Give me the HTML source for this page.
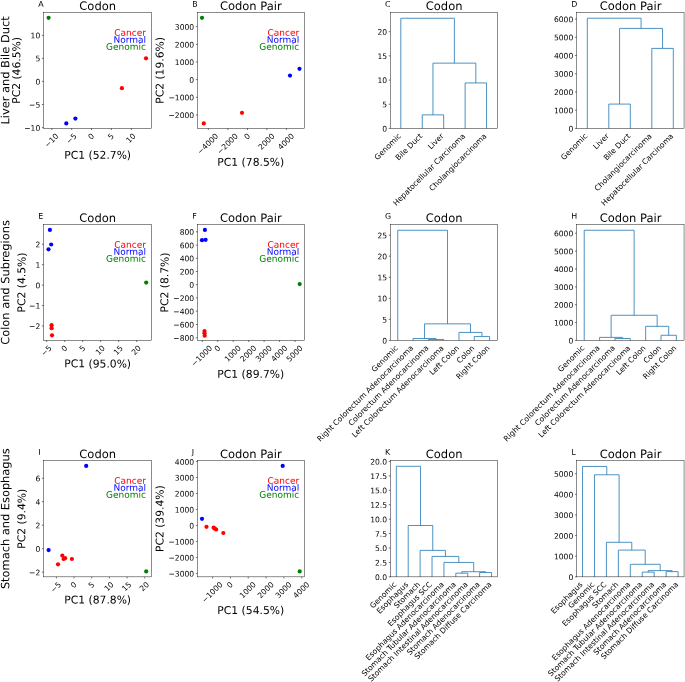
<!DOCTYPE html>
<html><head><meta charset="utf-8"><title>Figure</title>
<style>html,body{margin:0;padding:0;background:#fff;overflow:hidden}svg{display:block;will-change:transform}text{font-family:"DejaVu Sans","Liberation Sans",sans-serif}</style>
</head><body>
<svg width="685" height="682" viewBox="0 0 685 682">
<rect width="685" height="682" fill="#fff"/>
<circle cx="48.6" cy="17.8" r="2.1" fill="#008000"/>
<circle cx="146" cy="58.3" r="2.1" fill="#ff0000"/>
<circle cx="121.9" cy="88.2" r="2.1" fill="#ff0000"/>
<circle cx="75.4" cy="118.6" r="2.1" fill="#0000ff"/>
<circle cx="66.3" cy="123.4" r="2.1" fill="#0000ff"/>
<rect x="43.55" y="12.50" width="107.85" height="115.9" fill="none" stroke="#000" stroke-width="0.45"/>
<text transform="translate(40.25 38.37) rotate(0.1)" font-size="7.6" text-anchor="end" fill="#000">10</text>
<text transform="translate(40.25 61.37) rotate(0.1)" font-size="7.6" text-anchor="end" fill="#000">5</text>
<text transform="translate(40.25 84.47) rotate(0.1)" font-size="7.6" text-anchor="end" fill="#000">0</text>
<text transform="translate(40.25 107.57) rotate(0.1)" font-size="7.6" text-anchor="end" fill="#000">−5</text>
<text transform="translate(40.25 130.67) rotate(0.1)" font-size="7.6" text-anchor="end" fill="#000">−10</text>
<path d="M43.55 35.30h-1.6M43.55 58.30h-1.6M43.55 81.40h-1.6M43.55 104.50h-1.6M43.55 127.60h-1.6" stroke="#000" stroke-width="0.55" fill="none"/>
<text transform="translate(53.30 142.25) rotate(-45)" font-size="7.6" text-anchor="middle" fill="#000">−10</text>
<text transform="translate(73.10 140.55) rotate(-45)" font-size="7.6" text-anchor="middle" fill="#000">−5</text>
<text transform="translate(92.90 138.29) rotate(-45)" font-size="7.6" text-anchor="middle" fill="#000">0</text>
<text transform="translate(112.80 138.29) rotate(-45)" font-size="7.6" text-anchor="middle" fill="#000">5</text>
<text transform="translate(132.70 140.00) rotate(-45)" font-size="7.6" text-anchor="middle" fill="#000">10</text>
<path d="M51.90 128.40v1.6M71.70 128.40v1.6M91.50 128.40v1.6M111.40 128.40v1.6M131.30 128.40v1.6" stroke="#000" stroke-width="0.55" fill="none"/>
<text transform="translate(97.67 9.90) rotate(0.1)" font-size="11.5" text-anchor="middle" fill="#000">Codon</text>
<text transform="translate(38.25 6.70) rotate(0.1)" font-size="7.9" text-anchor="start" fill="#000">A</text>
<text transform="translate(146.00 35.80) rotate(0.1)" font-size="9.0" text-anchor="end" fill="#ff0000">Cancer</text>
<text transform="translate(146.00 42.80) rotate(0.1)" font-size="9.0" text-anchor="end" fill="#0000ff">Normal</text>
<text transform="translate(146.00 49.80) rotate(0.1)" font-size="9.0" text-anchor="end" fill="#008000">Genomic</text>
<text transform="translate(97.67 158.70) rotate(0.1)" font-size="10.75" text-anchor="middle" fill="#000">PC1 (52.7%)</text>
<text transform="translate(20.15 70.45) rotate(-89.9)" font-size="10.75" text-anchor="middle" fill="#000">PC2 (46.5%)</text>
<text transform="translate(9.25 70.45) rotate(-89.9)" font-size="11.4" text-anchor="middle" fill="#000">Liver and Bile Duct</text>
<circle cx="202" cy="17.8" r="2.1" fill="#008000"/>
<circle cx="299.5" cy="68.8" r="2.1" fill="#0000ff"/>
<circle cx="290" cy="75.6" r="2.1" fill="#0000ff"/>
<circle cx="242" cy="112.8" r="2.1" fill="#ff0000"/>
<circle cx="203.8" cy="123.4" r="2.1" fill="#ff0000"/>
<rect x="197.45" y="12.50" width="107.2" height="115.9" fill="none" stroke="#000" stroke-width="0.45"/>
<text transform="translate(194.15 29.67) rotate(0.1)" font-size="7.6" text-anchor="end" fill="#000">3000</text>
<text transform="translate(194.15 47.47) rotate(0.1)" font-size="7.6" text-anchor="end" fill="#000">2000</text>
<text transform="translate(194.15 65.07) rotate(0.1)" font-size="7.6" text-anchor="end" fill="#000">1000</text>
<text transform="translate(194.15 82.67) rotate(0.1)" font-size="7.6" text-anchor="end" fill="#000">0</text>
<text transform="translate(194.15 100.37) rotate(0.1)" font-size="7.6" text-anchor="end" fill="#000">−1000</text>
<text transform="translate(194.15 118.07) rotate(0.1)" font-size="7.6" text-anchor="end" fill="#000">−2000</text>
<path d="M197.45 26.60h-1.6M197.45 44.40h-1.6M197.45 62.00h-1.6M197.45 79.60h-1.6M197.45 97.30h-1.6M197.45 115.00h-1.6" stroke="#000" stroke-width="0.55" fill="none"/>
<text transform="translate(209.70 145.67) rotate(-45)" font-size="7.6" text-anchor="middle" fill="#000">−4000</text>
<text transform="translate(229.30 145.67) rotate(-45)" font-size="7.6" text-anchor="middle" fill="#000">−2000</text>
<text transform="translate(248.90 138.29) rotate(-45)" font-size="7.6" text-anchor="middle" fill="#000">0</text>
<text transform="translate(268.30 143.42) rotate(-45)" font-size="7.6" text-anchor="middle" fill="#000">2000</text>
<text transform="translate(287.80 143.42) rotate(-45)" font-size="7.6" text-anchor="middle" fill="#000">4000</text>
<path d="M208.30 128.40v1.6M227.90 128.40v1.6M247.50 128.40v1.6M266.90 128.40v1.6M286.40 128.40v1.6" stroke="#000" stroke-width="0.55" fill="none"/>
<text transform="translate(250.75 9.90) rotate(0.1)" font-size="11.5" text-anchor="middle" fill="#000">Codon Pair</text>
<text transform="translate(192.15 6.70) rotate(0.1)" font-size="7.9" text-anchor="start" fill="#000">B</text>
<text transform="translate(299.25 35.80) rotate(0.1)" font-size="9.0" text-anchor="end" fill="#ff0000">Cancer</text>
<text transform="translate(299.25 42.80) rotate(0.1)" font-size="9.0" text-anchor="end" fill="#0000ff">Normal</text>
<text transform="translate(299.25 49.80) rotate(0.1)" font-size="9.0" text-anchor="end" fill="#008000">Genomic</text>
<text transform="translate(250.75 165.80) rotate(0.1)" font-size="10.75" text-anchor="middle" fill="#000">PC1 (78.5%)</text>
<text transform="translate(163.55 70.45) rotate(-89.9)" font-size="10.75" text-anchor="middle" fill="#000">PC2 (19.6%)</text>
<path d="M422.25 128.40V114.86H443.68V128.40M465.11 128.40V82.95H486.54V128.40M432.96 114.86V63.13H475.82V82.95M400.81 128.40V18.26H454.39V63.13" stroke="#1f77b4" stroke-width="0.8" fill="none" stroke-linejoin="miter"/>
<rect x="390.35" y="12.50" width="107.15" height="115.9" fill="none" stroke="#000" stroke-width="0.45"/>
<text transform="translate(387.05 131.47) rotate(0.1)" font-size="7.6" text-anchor="end" fill="#000">0</text>
<text transform="translate(387.05 107.30) rotate(0.1)" font-size="7.6" text-anchor="end" fill="#000">5</text>
<text transform="translate(387.05 83.12) rotate(0.1)" font-size="7.6" text-anchor="end" fill="#000">10</text>
<text transform="translate(387.05 58.95) rotate(0.1)" font-size="7.6" text-anchor="end" fill="#000">15</text>
<text transform="translate(387.05 34.77) rotate(0.1)" font-size="7.6" text-anchor="end" fill="#000">20</text>
<path d="M390.35 128.40h-1.6M390.35 104.23h-1.6M390.35 80.05h-1.6M390.35 55.88h-1.6M390.35 31.70h-1.6" stroke="#000" stroke-width="0.55" fill="none"/>
<text transform="translate(401.43 136.58) rotate(-45)" font-size="7.6" text-anchor="end" fill="#000">Genomic</text>
<text transform="translate(422.86 136.58) rotate(-45)" font-size="7.6" text-anchor="end" fill="#000">Bile Duct</text>
<text transform="translate(444.29 136.58) rotate(-45)" font-size="7.6" text-anchor="end" fill="#000">Liver</text>
<text transform="translate(465.72 136.58) rotate(-45)" font-size="7.6" text-anchor="end" fill="#000">Hepatocellular Carcinoma</text>
<text transform="translate(487.15 136.58) rotate(-45)" font-size="7.6" text-anchor="end" fill="#000">Cholangiocarcinoma</text>
<text transform="translate(444.12 9.90) rotate(0.1)" font-size="11.5" text-anchor="middle" fill="#000">Codon</text>
<text transform="translate(385.05 6.70) rotate(0.1)" font-size="7.9" text-anchor="start" fill="#000">C</text>
<path d="M608.80 128.40V104.09H630.30V128.40M651.80 128.40V48.40H673.30V128.40M619.55 104.09V28.41H662.55V48.40M587.30 128.40V18.21H641.05V28.41" stroke="#1f77b4" stroke-width="0.8" fill="none" stroke-linejoin="miter"/>
<rect x="576.55" y="12.50" width="107.5" height="115.9" fill="none" stroke="#000" stroke-width="0.45"/>
<text transform="translate(573.25 131.47) rotate(0.1)" font-size="7.6" text-anchor="end" fill="#000">0</text>
<text transform="translate(573.25 113.25) rotate(0.1)" font-size="7.6" text-anchor="end" fill="#000">1000</text>
<text transform="translate(573.25 95.03) rotate(0.1)" font-size="7.6" text-anchor="end" fill="#000">2000</text>
<text transform="translate(573.25 76.81) rotate(0.1)" font-size="7.6" text-anchor="end" fill="#000">3000</text>
<text transform="translate(573.25 58.59) rotate(0.1)" font-size="7.6" text-anchor="end" fill="#000">4000</text>
<text transform="translate(573.25 40.37) rotate(0.1)" font-size="7.6" text-anchor="end" fill="#000">5000</text>
<text transform="translate(573.25 22.15) rotate(0.1)" font-size="7.6" text-anchor="end" fill="#000">6000</text>
<path d="M576.55 128.40h-1.6M576.55 110.18h-1.6M576.55 91.96h-1.6M576.55 73.74h-1.6M576.55 55.52h-1.6M576.55 37.30h-1.6M576.55 19.08h-1.6" stroke="#000" stroke-width="0.55" fill="none"/>
<text transform="translate(587.91 136.58) rotate(-45)" font-size="7.6" text-anchor="end" fill="#000">Genomic</text>
<text transform="translate(609.41 136.58) rotate(-45)" font-size="7.6" text-anchor="end" fill="#000">Liver</text>
<text transform="translate(630.91 136.58) rotate(-45)" font-size="7.6" text-anchor="end" fill="#000">Bile Duct</text>
<text transform="translate(652.41 136.58) rotate(-45)" font-size="7.6" text-anchor="end" fill="#000">Cholangiocarcinoma</text>
<text transform="translate(673.91 136.58) rotate(-45)" font-size="7.6" text-anchor="end" fill="#000">Hepatocellular Carcinoma</text>
<text transform="translate(630.50 9.90) rotate(0.1)" font-size="11.5" text-anchor="middle" fill="#000">Codon Pair</text>
<text transform="translate(571.25 6.70) rotate(0.1)" font-size="7.9" text-anchor="start" fill="#000">D</text>
<circle cx="49.9" cy="229.9" r="2.1" fill="#0000ff"/>
<circle cx="51.2" cy="244.5" r="2.1" fill="#0000ff"/>
<circle cx="48.5" cy="249.3" r="2.1" fill="#0000ff"/>
<circle cx="146.2" cy="282.6" r="2.1" fill="#008000"/>
<circle cx="51.6" cy="325.2" r="2.1" fill="#ff0000"/>
<circle cx="51.6" cy="328.2" r="2.1" fill="#ff0000"/>
<circle cx="52" cy="335.3" r="2.1" fill="#ff0000"/>
<rect x="43.55" y="224.50" width="107.85" height="115.9" fill="none" stroke="#000" stroke-width="0.45"/>
<text transform="translate(40.25 247.31) rotate(0.1)" font-size="7.6" text-anchor="end" fill="#000">2</text>
<text transform="translate(40.25 267.74) rotate(0.1)" font-size="7.6" text-anchor="end" fill="#000">1</text>
<text transform="translate(40.25 288.17) rotate(0.1)" font-size="7.6" text-anchor="end" fill="#000">0</text>
<text transform="translate(40.25 308.60) rotate(0.1)" font-size="7.6" text-anchor="end" fill="#000">−1</text>
<text transform="translate(40.25 329.03) rotate(0.1)" font-size="7.6" text-anchor="end" fill="#000">−2</text>
<path d="M43.55 244.24h-1.6M43.55 264.67h-1.6M43.55 285.10h-1.6M43.55 305.53h-1.6M43.55 325.96h-1.6" stroke="#000" stroke-width="0.55" fill="none"/>
<text transform="translate(48.10 352.55) rotate(-45)" font-size="7.6" text-anchor="middle" fill="#000">−5</text>
<text transform="translate(66.10 350.29) rotate(-45)" font-size="7.6" text-anchor="middle" fill="#000">0</text>
<text transform="translate(84.10 350.29) rotate(-45)" font-size="7.6" text-anchor="middle" fill="#000">5</text>
<text transform="translate(102.10 352.00) rotate(-45)" font-size="7.6" text-anchor="middle" fill="#000">10</text>
<text transform="translate(120.10 352.00) rotate(-45)" font-size="7.6" text-anchor="middle" fill="#000">15</text>
<text transform="translate(138.10 352.00) rotate(-45)" font-size="7.6" text-anchor="middle" fill="#000">20</text>
<path d="M46.70 340.40v1.6M64.70 340.40v1.6M82.70 340.40v1.6M100.70 340.40v1.6M118.70 340.40v1.6M136.70 340.40v1.6" stroke="#000" stroke-width="0.55" fill="none"/>
<text transform="translate(97.67 221.90) rotate(0.1)" font-size="11.5" text-anchor="middle" fill="#000">Codon</text>
<text transform="translate(38.25 218.70) rotate(0.1)" font-size="7.9" text-anchor="start" fill="#000">E</text>
<text transform="translate(146.00 247.80) rotate(0.1)" font-size="9.0" text-anchor="end" fill="#ff0000">Cancer</text>
<text transform="translate(146.00 254.80) rotate(0.1)" font-size="9.0" text-anchor="end" fill="#0000ff">Normal</text>
<text transform="translate(146.00 261.80) rotate(0.1)" font-size="9.0" text-anchor="end" fill="#008000">Genomic</text>
<text transform="translate(97.67 367.40) rotate(0.1)" font-size="10.75" text-anchor="middle" fill="#000">PC1 (95.0%)</text>
<text transform="translate(25.35 282.45) rotate(-89.9)" font-size="10.75" text-anchor="middle" fill="#000">PC2 (4.5%)</text>
<text transform="translate(9.25 282.45) rotate(-89.9)" font-size="11.4" text-anchor="middle" fill="#000">Colon and Subregions</text>
<circle cx="204.9" cy="229.9" r="2.1" fill="#0000ff"/>
<circle cx="202" cy="240.2" r="2.1" fill="#0000ff"/>
<circle cx="205.6" cy="239.8" r="2.1" fill="#0000ff"/>
<circle cx="299.7" cy="284.1" r="2.1" fill="#008000"/>
<circle cx="204.5" cy="331.1" r="2.1" fill="#ff0000"/>
<circle cx="204.5" cy="333.2" r="2.1" fill="#ff0000"/>
<circle cx="204.7" cy="335.7" r="2.1" fill="#ff0000"/>
<rect x="197.45" y="224.50" width="107.2" height="115.9" fill="none" stroke="#000" stroke-width="0.45"/>
<text transform="translate(194.15 234.87) rotate(0.1)" font-size="7.6" text-anchor="end" fill="#000">800</text>
<text transform="translate(194.15 248.17) rotate(0.1)" font-size="7.6" text-anchor="end" fill="#000">600</text>
<text transform="translate(194.15 261.37) rotate(0.1)" font-size="7.6" text-anchor="end" fill="#000">400</text>
<text transform="translate(194.15 274.57) rotate(0.1)" font-size="7.6" text-anchor="end" fill="#000">200</text>
<text transform="translate(194.15 287.77) rotate(0.1)" font-size="7.6" text-anchor="end" fill="#000">0</text>
<text transform="translate(194.15 300.97) rotate(0.1)" font-size="7.6" text-anchor="end" fill="#000">−200</text>
<text transform="translate(194.15 314.27) rotate(0.1)" font-size="7.6" text-anchor="end" fill="#000">−400</text>
<text transform="translate(194.15 327.57) rotate(0.1)" font-size="7.6" text-anchor="end" fill="#000">−600</text>
<text transform="translate(194.15 340.87) rotate(0.1)" font-size="7.6" text-anchor="end" fill="#000">−800</text>
<path d="M197.45 231.80h-1.6M197.45 245.10h-1.6M197.45 258.30h-1.6M197.45 271.50h-1.6M197.45 284.70h-1.6M197.45 297.90h-1.6M197.45 311.20h-1.6M197.45 324.50h-1.6M197.45 337.80h-1.6" stroke="#000" stroke-width="0.55" fill="none"/>
<text transform="translate(203.70 357.67) rotate(-45)" font-size="7.6" text-anchor="middle" fill="#000">−1000</text>
<text transform="translate(219.20 350.29) rotate(-45)" font-size="7.6" text-anchor="middle" fill="#000">0</text>
<text transform="translate(234.60 355.42) rotate(-45)" font-size="7.6" text-anchor="middle" fill="#000">1000</text>
<text transform="translate(250.10 355.42) rotate(-45)" font-size="7.6" text-anchor="middle" fill="#000">2000</text>
<text transform="translate(265.50 355.42) rotate(-45)" font-size="7.6" text-anchor="middle" fill="#000">3000</text>
<text transform="translate(281.00 355.42) rotate(-45)" font-size="7.6" text-anchor="middle" fill="#000">4000</text>
<text transform="translate(296.40 355.42) rotate(-45)" font-size="7.6" text-anchor="middle" fill="#000">5000</text>
<path d="M202.30 340.40v1.6M217.80 340.40v1.6M233.20 340.40v1.6M248.70 340.40v1.6M264.10 340.40v1.6M279.60 340.40v1.6M295.00 340.40v1.6" stroke="#000" stroke-width="0.55" fill="none"/>
<text transform="translate(250.75 221.90) rotate(0.1)" font-size="11.5" text-anchor="middle" fill="#000">Codon Pair</text>
<text transform="translate(192.15 218.70) rotate(0.1)" font-size="7.9" text-anchor="start" fill="#000">F</text>
<text transform="translate(299.25 247.80) rotate(0.1)" font-size="9.0" text-anchor="end" fill="#ff0000">Cancer</text>
<text transform="translate(299.25 254.80) rotate(0.1)" font-size="9.0" text-anchor="end" fill="#0000ff">Normal</text>
<text transform="translate(299.25 261.80) rotate(0.1)" font-size="9.0" text-anchor="end" fill="#008000">Genomic</text>
<text transform="translate(250.75 377.80) rotate(0.1)" font-size="10.75" text-anchor="middle" fill="#000">PC1 (89.7%)</text>
<text transform="translate(168.35 282.45) rotate(-89.9)" font-size="10.75" text-anchor="middle" fill="#000">PC2 (8.7%)</text>
<path d="M428.37 340.40V339.47H443.68V340.40M413.06 340.40V338.51H436.02V339.47M474.29 340.40V336.44H489.60V340.40M458.98 340.40V332.40H481.94V336.44M424.54 338.51V323.85H470.46V332.40M397.75 340.40V230.27H447.50V323.85" stroke="#1f77b4" stroke-width="0.8" fill="none" stroke-linejoin="miter"/>
<rect x="390.35" y="224.50" width="107.15" height="115.9" fill="none" stroke="#000" stroke-width="0.45"/>
<text transform="translate(387.05 343.47) rotate(0.1)" font-size="7.6" text-anchor="end" fill="#000">0</text>
<text transform="translate(387.05 322.42) rotate(0.1)" font-size="7.6" text-anchor="end" fill="#000">5</text>
<text transform="translate(387.05 301.37) rotate(0.1)" font-size="7.6" text-anchor="end" fill="#000">10</text>
<text transform="translate(387.05 280.32) rotate(0.1)" font-size="7.6" text-anchor="end" fill="#000">15</text>
<text transform="translate(387.05 259.27) rotate(0.1)" font-size="7.6" text-anchor="end" fill="#000">20</text>
<text transform="translate(387.05 238.22) rotate(0.1)" font-size="7.6" text-anchor="end" fill="#000">25</text>
<path d="M390.35 340.40h-1.6M390.35 319.35h-1.6M390.35 298.30h-1.6M390.35 277.25h-1.6M390.35 256.20h-1.6M390.35 235.15h-1.6" stroke="#000" stroke-width="0.55" fill="none"/>
<text transform="translate(398.36 348.58) rotate(-45)" font-size="7.6" text-anchor="end" fill="#000">Genomic</text>
<text transform="translate(413.67 348.58) rotate(-45)" font-size="7.6" text-anchor="end" fill="#000">Right Colorectum Adenocarcinoma</text>
<text transform="translate(428.98 348.58) rotate(-45)" font-size="7.6" text-anchor="end" fill="#000">Colorectum Adenocarcinoma</text>
<text transform="translate(444.29 348.58) rotate(-45)" font-size="7.6" text-anchor="end" fill="#000">Left Colorectum Adenocarcinoma</text>
<text transform="translate(459.59 348.58) rotate(-45)" font-size="7.6" text-anchor="end" fill="#000">Left Colon</text>
<text transform="translate(474.90 348.58) rotate(-45)" font-size="7.6" text-anchor="end" fill="#000">Colon</text>
<text transform="translate(490.21 348.58) rotate(-45)" font-size="7.6" text-anchor="end" fill="#000">Right Colon</text>
<text transform="translate(444.12 221.90) rotate(0.1)" font-size="11.5" text-anchor="middle" fill="#000">Codon</text>
<text transform="translate(385.05 218.70) rotate(0.1)" font-size="7.9" text-anchor="start" fill="#000">G</text>
<path d="M614.94 340.40V338.53H630.30V340.40M599.59 340.40V337.38H622.62V338.53M661.01 340.40V335.28H676.37V340.40M645.66 340.40V326.32H668.69V335.28M611.10 337.38V315.27H657.17V326.32M584.23 340.40V230.25H634.14V315.27" stroke="#1f77b4" stroke-width="0.8" fill="none" stroke-linejoin="miter"/>
<rect x="576.55" y="224.50" width="107.5" height="115.9" fill="none" stroke="#000" stroke-width="0.45"/>
<text transform="translate(573.25 343.47) rotate(0.1)" font-size="7.6" text-anchor="end" fill="#000">0</text>
<text transform="translate(573.25 325.62) rotate(0.1)" font-size="7.6" text-anchor="end" fill="#000">1000</text>
<text transform="translate(573.25 307.77) rotate(0.1)" font-size="7.6" text-anchor="end" fill="#000">2000</text>
<text transform="translate(573.25 289.92) rotate(0.1)" font-size="7.6" text-anchor="end" fill="#000">3000</text>
<text transform="translate(573.25 272.07) rotate(0.1)" font-size="7.6" text-anchor="end" fill="#000">4000</text>
<text transform="translate(573.25 254.22) rotate(0.1)" font-size="7.6" text-anchor="end" fill="#000">5000</text>
<text transform="translate(573.25 236.37) rotate(0.1)" font-size="7.6" text-anchor="end" fill="#000">6000</text>
<path d="M576.55 340.40h-1.6M576.55 322.55h-1.6M576.55 304.70h-1.6M576.55 286.85h-1.6M576.55 269.00h-1.6M576.55 251.15h-1.6M576.55 233.30h-1.6" stroke="#000" stroke-width="0.55" fill="none"/>
<text transform="translate(584.84 348.58) rotate(-45)" font-size="7.6" text-anchor="end" fill="#000">Genomic</text>
<text transform="translate(600.20 348.58) rotate(-45)" font-size="7.6" text-anchor="end" fill="#000">Right Colorectum Adenocarcinoma</text>
<text transform="translate(615.55 348.58) rotate(-45)" font-size="7.6" text-anchor="end" fill="#000">Colorectum Adenocarcinoma</text>
<text transform="translate(630.91 348.58) rotate(-45)" font-size="7.6" text-anchor="end" fill="#000">Left Colorectum Adenocarcinoma</text>
<text transform="translate(646.27 348.58) rotate(-45)" font-size="7.6" text-anchor="end" fill="#000">Left Colon</text>
<text transform="translate(661.62 348.58) rotate(-45)" font-size="7.6" text-anchor="end" fill="#000">Colon</text>
<text transform="translate(676.98 348.58) rotate(-45)" font-size="7.6" text-anchor="end" fill="#000">Right Colon</text>
<text transform="translate(630.50 221.90) rotate(0.1)" font-size="11.5" text-anchor="middle" fill="#000">Codon Pair</text>
<text transform="translate(571.25 218.70) rotate(0.1)" font-size="7.9" text-anchor="start" fill="#000">H</text>
<circle cx="86.2" cy="465.9" r="2.1" fill="#0000ff"/>
<circle cx="48.6" cy="550.1" r="2.1" fill="#0000ff"/>
<circle cx="146.2" cy="571.4" r="2.1" fill="#008000"/>
<circle cx="62.3" cy="555.5" r="2.1" fill="#ff0000"/>
<circle cx="65.1" cy="558.2" r="2.1" fill="#ff0000"/>
<circle cx="63.6" cy="558.9" r="2.1" fill="#ff0000"/>
<circle cx="71.9" cy="559" r="2.1" fill="#ff0000"/>
<circle cx="58" cy="564.3" r="2.1" fill="#ff0000"/>
<rect x="43.55" y="460.55" width="107.85" height="116.3" fill="none" stroke="#000" stroke-width="0.45"/>
<text transform="translate(40.25 481.27) rotate(0.1)" font-size="7.6" text-anchor="end" fill="#000">6</text>
<text transform="translate(40.25 504.77) rotate(0.1)" font-size="7.6" text-anchor="end" fill="#000">4</text>
<text transform="translate(40.25 528.27) rotate(0.1)" font-size="7.6" text-anchor="end" fill="#000">2</text>
<text transform="translate(40.25 551.77) rotate(0.1)" font-size="7.6" text-anchor="end" fill="#000">0</text>
<text transform="translate(40.25 575.27) rotate(0.1)" font-size="7.6" text-anchor="end" fill="#000">−2</text>
<path d="M43.55 478.20h-1.6M43.55 501.70h-1.6M43.55 525.20h-1.6M43.55 548.70h-1.6M43.55 572.20h-1.6" stroke="#000" stroke-width="0.55" fill="none"/>
<text transform="translate(57.80 589.00) rotate(-45)" font-size="7.6" text-anchor="middle" fill="#000">−5</text>
<text transform="translate(75.40 586.74) rotate(-45)" font-size="7.6" text-anchor="middle" fill="#000">0</text>
<text transform="translate(93.10 586.74) rotate(-45)" font-size="7.6" text-anchor="middle" fill="#000">5</text>
<text transform="translate(110.80 588.45) rotate(-45)" font-size="7.6" text-anchor="middle" fill="#000">10</text>
<text transform="translate(128.50 588.45) rotate(-45)" font-size="7.6" text-anchor="middle" fill="#000">15</text>
<text transform="translate(146.20 588.45) rotate(-45)" font-size="7.6" text-anchor="middle" fill="#000">20</text>
<path d="M56.40 576.85v1.6M74.00 576.85v1.6M91.70 576.85v1.6M109.40 576.85v1.6M127.10 576.85v1.6M144.80 576.85v1.6" stroke="#000" stroke-width="0.55" fill="none"/>
<text transform="translate(97.67 457.95) rotate(0.1)" font-size="11.5" text-anchor="middle" fill="#000">Codon</text>
<text transform="translate(38.25 454.75) rotate(0.1)" font-size="7.9" text-anchor="start" fill="#000">I</text>
<text transform="translate(146.00 483.85) rotate(0.1)" font-size="9.0" text-anchor="end" fill="#ff0000">Cancer</text>
<text transform="translate(146.00 490.85) rotate(0.1)" font-size="9.0" text-anchor="end" fill="#0000ff">Normal</text>
<text transform="translate(146.00 497.85) rotate(0.1)" font-size="9.0" text-anchor="end" fill="#008000">Genomic</text>
<text transform="translate(97.67 603.55) rotate(0.1)" font-size="10.75" text-anchor="middle" fill="#000">PC1 (87.8%)</text>
<text transform="translate(25.35 518.70) rotate(-89.9)" font-size="10.75" text-anchor="middle" fill="#000">PC2 (9.4%)</text>
<text transform="translate(9.25 518.70) rotate(-89.9)" font-size="11.4" text-anchor="middle" fill="#000">Stomach and Esophagus</text>
<circle cx="282.7" cy="465.9" r="2.1" fill="#0000ff"/>
<circle cx="202" cy="518.8" r="2.1" fill="#0000ff"/>
<circle cx="299.7" cy="571.4" r="2.1" fill="#008000"/>
<circle cx="206.5" cy="526.8" r="2.1" fill="#ff0000"/>
<circle cx="213.6" cy="527.7" r="2.1" fill="#ff0000"/>
<circle cx="214.9" cy="528.7" r="2.1" fill="#ff0000"/>
<circle cx="216.2" cy="529.5" r="2.1" fill="#ff0000"/>
<circle cx="223.3" cy="533" r="2.1" fill="#ff0000"/>
<rect x="197.45" y="460.55" width="107.2" height="116.3" fill="none" stroke="#000" stroke-width="0.45"/>
<text transform="translate(194.15 464.67) rotate(0.1)" font-size="7.6" text-anchor="end" fill="#000">4000</text>
<text transform="translate(194.15 480.57) rotate(0.1)" font-size="7.6" text-anchor="end" fill="#000">3000</text>
<text transform="translate(194.15 496.57) rotate(0.1)" font-size="7.6" text-anchor="end" fill="#000">2000</text>
<text transform="translate(194.15 512.47) rotate(0.1)" font-size="7.6" text-anchor="end" fill="#000">1000</text>
<text transform="translate(194.15 528.47) rotate(0.1)" font-size="7.6" text-anchor="end" fill="#000">0</text>
<text transform="translate(194.15 544.47) rotate(0.1)" font-size="7.6" text-anchor="end" fill="#000">−1000</text>
<text transform="translate(194.15 560.47) rotate(0.1)" font-size="7.6" text-anchor="end" fill="#000">−2000</text>
<text transform="translate(194.15 576.47) rotate(0.1)" font-size="7.6" text-anchor="end" fill="#000">−3000</text>
<path d="M197.45 461.60h-1.6M197.45 477.50h-1.6M197.45 493.50h-1.6M197.45 509.40h-1.6M197.45 525.40h-1.6M197.45 541.40h-1.6M197.45 557.40h-1.6M197.45 573.40h-1.6" stroke="#000" stroke-width="0.55" fill="none"/>
<text transform="translate(214.00 594.12) rotate(-45)" font-size="7.6" text-anchor="middle" fill="#000">−1000</text>
<text transform="translate(231.80 586.74) rotate(-45)" font-size="7.6" text-anchor="middle" fill="#000">0</text>
<text transform="translate(249.60 591.87) rotate(-45)" font-size="7.6" text-anchor="middle" fill="#000">1000</text>
<text transform="translate(267.50 591.87) rotate(-45)" font-size="7.6" text-anchor="middle" fill="#000">2000</text>
<text transform="translate(285.30 591.87) rotate(-45)" font-size="7.6" text-anchor="middle" fill="#000">3000</text>
<text transform="translate(303.20 591.87) rotate(-45)" font-size="7.6" text-anchor="middle" fill="#000">4000</text>
<path d="M212.60 576.85v1.6M230.40 576.85v1.6M248.20 576.85v1.6M266.10 576.85v1.6M283.90 576.85v1.6M301.80 576.85v1.6" stroke="#000" stroke-width="0.55" fill="none"/>
<text transform="translate(250.75 457.95) rotate(0.1)" font-size="11.5" text-anchor="middle" fill="#000">Codon Pair</text>
<text transform="translate(191.65 454.75) rotate(0.1)" font-size="7.9" text-anchor="start" fill="#000">J</text>
<text transform="translate(299.25 483.85) rotate(0.1)" font-size="9.0" text-anchor="end" fill="#ff0000">Cancer</text>
<text transform="translate(299.25 490.85) rotate(0.1)" font-size="9.0" text-anchor="end" fill="#0000ff">Normal</text>
<text transform="translate(299.25 497.85) rotate(0.1)" font-size="9.0" text-anchor="end" fill="#008000">Genomic</text>
<text transform="translate(250.75 613.95) rotate(0.1)" font-size="10.75" text-anchor="middle" fill="#000">PC1 (54.5%)</text>
<text transform="translate(163.55 518.70) rotate(-89.9)" font-size="10.75" text-anchor="middle" fill="#000">PC2 (39.4%)</text>
<path d="M455.83 576.85V573.16H467.74V576.85M479.64 576.85V572.52H491.55V576.85M461.78 573.16V571.71H485.59V572.52M443.93 576.85V562.43H473.69V571.71M432.02 576.85V556.42H458.81V562.43M420.11 576.85V550.37H445.41V556.42M408.21 576.85V525.50H432.76V550.37M396.30 576.85V466.30H420.49V525.50" stroke="#1f77b4" stroke-width="0.8" fill="none" stroke-linejoin="miter"/>
<rect x="390.35" y="460.55" width="107.15" height="116.3" fill="none" stroke="#000" stroke-width="0.45"/>
<text transform="translate(387.05 579.92) rotate(0.1)" font-size="7.6" text-anchor="end" fill="#000">0.0</text>
<text transform="translate(387.05 565.50) rotate(0.1)" font-size="7.6" text-anchor="end" fill="#000">2.5</text>
<text transform="translate(387.05 551.07) rotate(0.1)" font-size="7.6" text-anchor="end" fill="#000">5.0</text>
<text transform="translate(387.05 536.65) rotate(0.1)" font-size="7.6" text-anchor="end" fill="#000">7.5</text>
<text transform="translate(387.05 522.22) rotate(0.1)" font-size="7.6" text-anchor="end" fill="#000">10.0</text>
<text transform="translate(387.05 507.80) rotate(0.1)" font-size="7.6" text-anchor="end" fill="#000">12.5</text>
<text transform="translate(387.05 493.37) rotate(0.1)" font-size="7.6" text-anchor="end" fill="#000">15.0</text>
<text transform="translate(387.05 478.95) rotate(0.1)" font-size="7.6" text-anchor="end" fill="#000">17.5</text>
<text transform="translate(387.05 464.52) rotate(0.1)" font-size="7.6" text-anchor="end" fill="#000">20.0</text>
<path d="M390.35 576.85h-1.6M390.35 562.43h-1.6M390.35 548.00h-1.6M390.35 533.58h-1.6M390.35 519.15h-1.6M390.35 504.73h-1.6M390.35 490.30h-1.6M390.35 475.88h-1.6M390.35 461.45h-1.6" stroke="#000" stroke-width="0.55" fill="none"/>
<text transform="translate(396.91 585.03) rotate(-45)" font-size="7.6" text-anchor="end" fill="#000">Genomic</text>
<text transform="translate(408.82 585.03) rotate(-45)" font-size="7.6" text-anchor="end" fill="#000">Esophagus</text>
<text transform="translate(420.72 585.03) rotate(-45)" font-size="7.6" text-anchor="end" fill="#000">Stomach</text>
<text transform="translate(432.63 585.03) rotate(-45)" font-size="7.6" text-anchor="end" fill="#000">Esophagus SCC</text>
<text transform="translate(444.54 585.03) rotate(-45)" font-size="7.6" text-anchor="end" fill="#000">Esophagus Adenocarcinoma</text>
<text transform="translate(456.44 585.03) rotate(-45)" font-size="7.6" text-anchor="end" fill="#000">Stomach Tubular Adenocarcinoma</text>
<text transform="translate(468.35 585.03) rotate(-45)" font-size="7.6" text-anchor="end" fill="#000">Stomach Intestinal Adenocarcinoma</text>
<text transform="translate(480.25 585.03) rotate(-45)" font-size="7.6" text-anchor="end" fill="#000">Stomach Adenocarcinoma</text>
<text transform="translate(492.16 585.03) rotate(-45)" font-size="7.6" text-anchor="end" fill="#000">Stomach Diffuse Carcinoma</text>
<text transform="translate(444.12 457.95) rotate(0.1)" font-size="11.5" text-anchor="middle" fill="#000">Codon</text>
<text transform="translate(385.05 454.75) rotate(0.1)" font-size="7.9" text-anchor="start" fill="#000">K</text>
<path d="M642.24 576.85V572.11H654.19V576.85M666.13 576.85V571.65H678.08V576.85M648.22 572.11V570.60H672.11V571.65M630.30 576.85V564.31H660.16V570.60M618.36 576.85V550.09H645.23V564.31M606.41 576.85V542.29H631.79V550.09M594.47 576.85V474.79H619.10V542.29M582.52 576.85V466.46H606.78V474.79" stroke="#1f77b4" stroke-width="0.8" fill="none" stroke-linejoin="miter"/>
<rect x="576.55" y="460.55" width="107.5" height="116.3" fill="none" stroke="#000" stroke-width="0.45"/>
<text transform="translate(573.25 579.92) rotate(0.1)" font-size="7.6" text-anchor="end" fill="#000">0</text>
<text transform="translate(573.25 559.29) rotate(0.1)" font-size="7.6" text-anchor="end" fill="#000">1000</text>
<text transform="translate(573.25 538.66) rotate(0.1)" font-size="7.6" text-anchor="end" fill="#000">2000</text>
<text transform="translate(573.25 518.03) rotate(0.1)" font-size="7.6" text-anchor="end" fill="#000">3000</text>
<text transform="translate(573.25 497.40) rotate(0.1)" font-size="7.6" text-anchor="end" fill="#000">4000</text>
<text transform="translate(573.25 476.77) rotate(0.1)" font-size="7.6" text-anchor="end" fill="#000">5000</text>
<path d="M576.55 576.85h-1.6M576.55 556.22h-1.6M576.55 535.59h-1.6M576.55 514.96h-1.6M576.55 494.33h-1.6M576.55 473.70h-1.6" stroke="#000" stroke-width="0.55" fill="none"/>
<text transform="translate(583.13 585.03) rotate(-45)" font-size="7.6" text-anchor="end" fill="#000">Esophagus</text>
<text transform="translate(595.08 585.03) rotate(-45)" font-size="7.6" text-anchor="end" fill="#000">Genomic</text>
<text transform="translate(607.02 585.03) rotate(-45)" font-size="7.6" text-anchor="end" fill="#000">Esophagus SCC</text>
<text transform="translate(618.97 585.03) rotate(-45)" font-size="7.6" text-anchor="end" fill="#000">Stomach</text>
<text transform="translate(630.91 585.03) rotate(-45)" font-size="7.6" text-anchor="end" fill="#000">Esophagus Adenocarcinoma</text>
<text transform="translate(642.85 585.03) rotate(-45)" font-size="7.6" text-anchor="end" fill="#000">Stomach Tubular Adenocarcinoma</text>
<text transform="translate(654.80 585.03) rotate(-45)" font-size="7.6" text-anchor="end" fill="#000">Stomach Intestinal Adenocarcinoma</text>
<text transform="translate(666.74 585.03) rotate(-45)" font-size="7.6" text-anchor="end" fill="#000">Stomach Adenocarcinoma</text>
<text transform="translate(678.69 585.03) rotate(-45)" font-size="7.6" text-anchor="end" fill="#000">Stomach Diffuse Carcinoma</text>
<text transform="translate(630.50 457.95) rotate(0.1)" font-size="11.5" text-anchor="middle" fill="#000">Codon Pair</text>
<text transform="translate(571.25 454.75) rotate(0.1)" font-size="7.9" text-anchor="start" fill="#000">L</text>
</svg>
</body></html>
